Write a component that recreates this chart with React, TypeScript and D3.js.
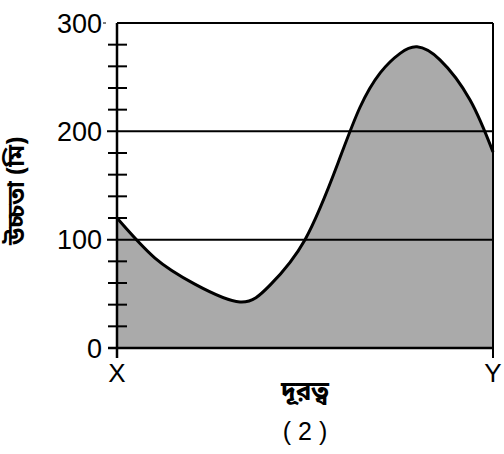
import * as d3 from "d3";
import React from "react";

// distance (0 = X, 100 = Y) and height in metres
const distance = [0, 10.1, 20.7, 32.7, 40.7, 50, 58.8, 64.6, 70, 75.3, 79.8, 85.9, 93.9, 100];
const height = [120, 83, 59, 42.5, 58, 100, 171, 222, 254, 272, 278, 266, 229, 181];
const gridValues = [100, 200];
const labelValues = [0, 100, 200, 300];
const minorTicks = [20, 40, 60, 80, 120, 140, 160, 180, 220, 240, 260, 280];
const endLabels = ["X", "Y"];

const W = 504;
const H = 454;
const margin = { top: 23, right: 11, bottom: 106, left: 117 };

const font = "'Liberation Sans', Arial, Helvetica, sans-serif";
const bnFont = "'Noto Sans Bengali', 'Lohit Bengali', 'Noto Sans', sans-serif";

export default function App() {
  const x = d3.scaleLinear().domain([0, 100]).range([margin.left, W - margin.right]);
  const y = d3.scaleLinear().domain([0, 300]).range([H - margin.bottom, margin.top]);
  const pts = distance.map((d, i) => [d, height[i]] as [number, number]);

  const curve = d3.curveNatural;
  const area = d3
    .area<[number, number]>()
    .x((d) => x(d[0]))
    .y0(y(0))
    .y1((d) => y(d[1]))
    .curve(curve);
  const line = d3
    .line<[number, number]>()
    .x((d) => x(d[0]))
    .y((d) => y(d[1]))
    .curve(curve);

  const x0 = x(0);
  const x1 = x(100);

  return (
    <svg
      width={W}
      height={H}
      style={{ position: "absolute", left: 0, top: 0, background: "#fff" }}
    >
      <path d={area(pts) ?? ""} fill="#aaaaaa" />

      {/* frame: top + right */}
      <line x1={x0} x2={x1} y1={y(300)} y2={y(300)} stroke="#000" strokeWidth={2} />
      <line x1={x1} x2={x1} y1={y(300)} y2={y(0) + 10} stroke="#000" strokeWidth={2} />

      {gridValues.map((v) => (
        <line key={v} x1={x0 - 10} x2={x1} y1={y(v)} y2={y(v)} stroke="#000" strokeWidth={2} />
      ))}

      <path d={line(pts) ?? ""} fill="none" stroke="#000" strokeWidth={3} />

      {/* axes */}
      <line x1={x0} x2={x0} y1={y(300)} y2={y(0) + 10} stroke="#000" strokeWidth={2.5} />
      <line x1={x0 - 9} x2={x1} y1={y(0)} y2={y(0)} stroke="#000" strokeWidth={2.5} />
      {minorTicks.map((v) => (
        <line key={v} x1={x0 - 9} x2={x0 + 10} y1={y(v)} y2={y(v)} stroke="#000" strokeWidth={2} />
      ))}
      <line x1={x0 - 14} x2={x0 - 11} y1={y(300)} y2={y(300)} stroke="#000" strokeWidth={1} />

      {labelValues.map((v) => (
        <text
          key={v}
          x={x0 - 15}
          y={y(v)}
          dy="0.36em"
          textAnchor="end"
          fontFamily={font}
          fontSize={27}
          fill="#000"
        >
          {v}
        </text>
      ))}

      {endLabels.map((t, i) => (
        <text
          key={t}
          x={i === 0 ? x0 : x1}
          y={y(0) + 34}
          textAnchor="middle"
          fontFamily={font}
          fontSize={26}
          fill="#000"
        >
          {t}
        </text>
      ))}

      <text
        transform={`translate(24,${y(145)}) rotate(-90)`}
        textAnchor="middle"
        fontFamily={bnFont}
        fontWeight="bold"
        fontSize={24}
        fill="#000"
      >
        উচ্চতা (মি)
      </text>

      <text
        x={(x0 + x1) / 2}
        y={400}
        textAnchor="middle"
        fontFamily={bnFont}
        fontWeight="bold"
        fontSize={26}
        fill="#000"
      >
        দূরত্ব
      </text>
      <text
        x={(x0 + x1) / 2}
        y={440}
        textAnchor="middle"
        fontFamily={font}
        fontSize={25}
        fill="#000"
      >
        ( 2 )
      </text>
    </svg>
  );
}
